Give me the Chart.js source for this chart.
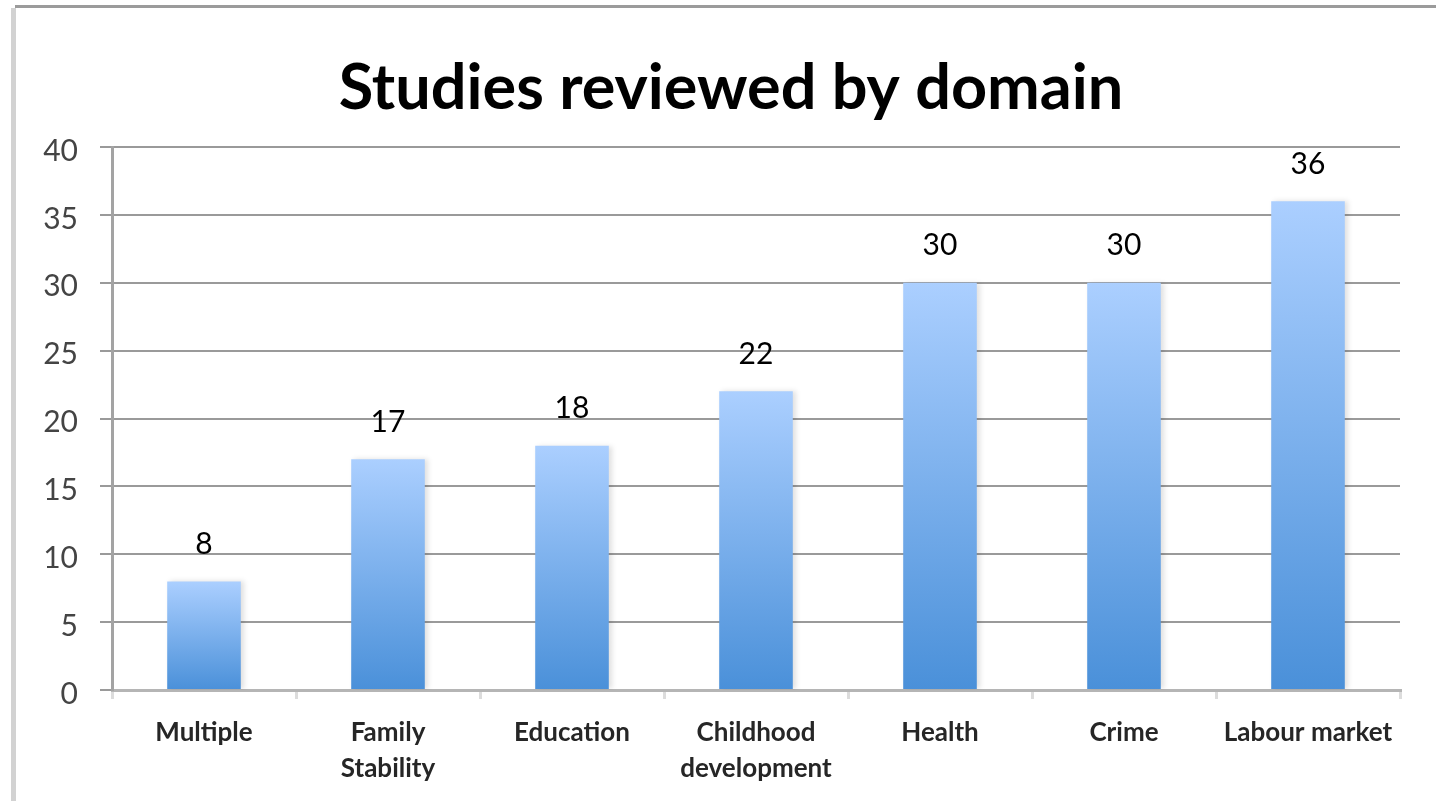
<!DOCTYPE html>
<html lang="en">
<head>
    <meta charset="UTF-8">
    <title>Studies reviewed by domain</title>
    <script src="https://cdn.jsdelivr.net/npm/chart.js"></script>
    <style>
        html, body { margin: 0; padding: 0; background: #fff; }
        .chart-container { position: relative; width: 1436px; height: 801px; }
    </style>
</head>
<body>
    <div class="chart-container">
        <canvas id="chart"></canvas>
    </div>

    <script>
        // Data
        const categories = ['Multiple', ['Family', 'Stability'], 'Education', ['Childhood', 'development'], 'Health', 'Crime', 'Labour market'];
        const studies = [8, 17, 18, 22, 30, 30, 36];
        const yTicks = [0, 5, 10, 15, 20, 25, 30, 35, 40];
        const chartTitle = 'Studies reviewed by domain';

        const FONT = 'Lato, "Open Sans", sans-serif';

        // Frame lines round the picture, plus the title
        const framePlugin = {
            id: 'frame',
            beforeDraw: chart => {
                const ctx = chart.ctx;
                ctx.save();
                ctx.fillStyle = '#fff';
                ctx.fillRect(0, 0, chart.width, chart.height);
                ctx.fillStyle = '#9b9b9b';
                ctx.fillRect(15, 5, chart.width - 15, 3);
                ctx.fillStyle = '#d2d2d2';
                ctx.fillRect(11, 8, 5, chart.height - 8);

                // title, centred a bit right of the plot centre like the original
                ctx.fillStyle = '#000';
                ctx.font = 'bold 63px ' + FONT;
                ctx.textAlign = 'center';
                ctx.textBaseline = 'alphabetic';
                ctx.fillText(chartTitle, 731, 109);
                ctx.restore();
            }
        };

        // Soft shadow behind the bars
        const shadowPlugin = {
            id: 'barShadow',
            beforeDatasetsDraw: chart => {
                const ctx = chart.ctx;
                ctx.save();
                ctx.shadowColor = 'rgba(0, 0, 0, 0.12)';
                ctx.shadowBlur = 5;
                ctx.shadowOffsetX = 3;
                ctx.shadowOffsetY = 0;
            },
            afterDatasetsDraw: chart => {
                chart.ctx.restore();
            }
        };

        // Value labels above each bar
        const valueLabels = {
            id: 'valueLabels',
            afterDatasetsDraw: chart => {
                const ctx = chart.ctx;
                const meta = chart.getDatasetMeta(0);
                ctx.save();
                ctx.fillStyle = '#000';
                ctx.font = '30px ' + FONT;
                ctx.textAlign = 'center';
                ctx.textBaseline = 'middle';
                meta.data.forEach((bar, i) => {
                    ctx.fillText(String(studies[i]), bar.x, bar.y - 37);
                });
                ctx.restore();
            }
        };

        function barGradient(context) {
            const chart = context.chart;
            if (!chart.chartArea) return '#7fb2ee';
            const y = chart.scales.y;
            const top = y.getPixelForValue(context.parsed ? context.parsed.y : studies[context.dataIndex]);
            const bottom = y.getPixelForValue(0);
            if (!isFinite(top) || top === bottom) return '#7fb2ee';
            const g = chart.ctx.createLinearGradient(0, top, 0, bottom);
            g.addColorStop(0, '#abcfff');
            g.addColorStop(1, '#4a90d9');
            return g;
        }

        new Chart(document.getElementById('chart'), {
            type: 'bar',
            data: {
                labels: categories,
                datasets: [{
                    label: 'Studies',
                    data: studies,
                    backgroundColor: barGradient,
                    borderWidth: 0,
                    barPercentage: 0.4,
                    categoryPercentage: 1.0
                }]
            },
            options: {
                responsive: true,
                maintainAspectRatio: false,
                animation: false,
                layout: {
                    padding: { top: 147, right: 36, bottom: 0, left: 0 }
                },
                plugins: {
                    legend: { display: false },
                    tooltip: { enabled: false },
                    title: { display: false }
                },
                scales: {
                    x: {
                        afterFit: scale => { scale.height = 111; },
                        border: { color: '#b5b5b5', width: 3 },
                        grid: {
                            offset: true,
                            drawOnChartArea: false,
                            drawTicks: true,
                            tickLength: 9,
                            color: '#dcdcdc',
                            lineWidth: 3
                        },
                        ticks: {
                            color: '#262626',
                            padding: 16,
                            maxRotation: 0,
                            autoSkip: false,
                            font: { family: FONT, size: 26, weight: 'bold', lineHeight: 1.38 }
                        }
                    },
                    y: {
                        min: 0,
                        max: 40,
                        afterFit: scale => { scale.width = 112; },
                        afterBuildTicks: scale => {
                            scale.ticks = yTicks.map(v => ({ value: v }));
                        },
                        border: { color: '#a3a3a3', width: 3 },
                        grid: {
                            color: '#9a9a9a',
                            lineWidth: 2,
                            drawTicks: true,
                            tickLength: 12
                        },
                        ticks: {
                            color: '#444',
                            padding: 22,
                            labelOffset: 4,
                            font: { family: FONT, size: 30 }
                        }
                    }
                }
            },
            plugins: [framePlugin, shadowPlugin, valueLabels]
        });
    </script>
</body>
</html>
